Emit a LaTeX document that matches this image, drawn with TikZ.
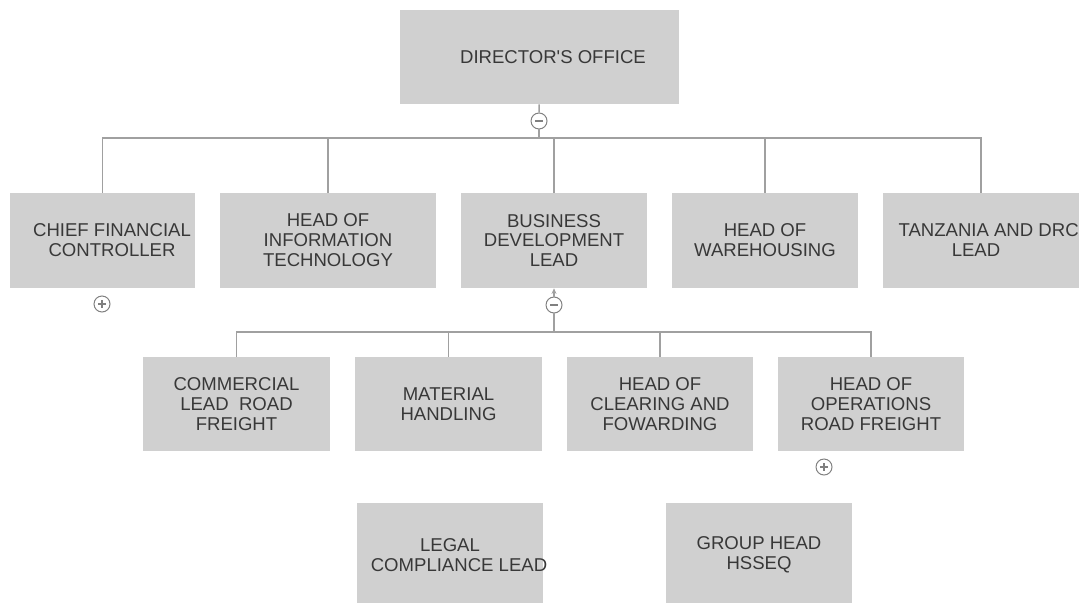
\documentclass[tikz,border=0pt]{standalone}
\usepackage{fontspec}
\setmainfont{Liberation Sans}
\usepackage{xcolor}
\usetikzlibrary{arrows.meta}
\definecolor{unitfill}{HTML}{D0D0D0}
\definecolor{unittext}{HTML}{383838}
\definecolor{linkgray}{HTML}{A0A0A0}
\definecolor{togglegray}{HTML}{808080}

\begin{document}
\begin{tikzpicture}[
    x=0.025cm, y=-0.025cm,
    unit/.style={fill=unitfill, text=unittext, inner sep=0pt, align=center,
        minimum width=4.65cm, minimum height=2.375cm,
        font=\fontsize{13.2}{14.2}\selectfont},
    link/.style={draw=linkgray, line width=1pt},
    toggle/.style={circle, draw=togglegray, fill=white, line width=0.7pt,
        minimum size=0.4cm, inner sep=0pt},
    collapse/.style={toggle, path picture={
        \draw[togglegray, line width=0.8pt]
            ([xshift=-0.09cm]path picture bounding box.center) -- ++(0.18cm,0cm);}},
    expand/.style={toggle, path picture={
        \draw[togglegray, line width=0.8pt]
            ([xshift=-0.09cm]path picture bounding box.center) -- ++(0.18cm,0cm)
            ([yshift=-0.09cm]path picture bounding box.center) -- ++(0cm,0.18cm);}},
]
    \useasboundingbox (0,0) rectangle (1083,603);
    \clip (0,0) rectangle (1083,603);

    % Top
    \node[unit, minimum width=6.975cm, minimum height=2.35cm] (dir) at (539.5,57)
        {\hspace*{0.675cm}DIRECTOR\textquotesingle S OFFICE};
    \node[collapse] (dirsw) at (539,121) {};
    \coordinate (busA) at (539,138);

    % First level
    \node[unit, minimum width=4.625cm] (cfc) at (102.5,240.5)
        {\hspace*{0.475cm}CHIEF FINANCIAL\\\hspace*{0.475cm}CONTROLLER};
    \node[unit, minimum width=5.4cm] (it) at (328,240.5)
        {HEAD OF\\INFORMATION\\TECHNOLOGY};
    \node[unit] (bd) at (554,240.5) {BUSINESS\\DEVELOPMENT\\LEAD};
    \node[unit] (wh) at (765,240.5) {HEAD OF\\WAREHOUSING};
    \node[unit, minimum width=4.9cm] (tz) at (981,240.5)
        {\hspace*{0.19cm}TANZANIA AND DRC\hspace*{-0.19cm}\\
         \hspace*{-0.125cm}LEAD\hspace*{0.125cm}};
    \node[expand] (cfcsw) at (102,304) {};
    \node[collapse] (bdsw) at (554,305) {};
    \coordinate (busB) at (554,332);

    % Second level
    \node[unit, minimum width=4.675cm, minimum height=2.35cm] (crl) at (236.5,404)
        {COMMERCIAL\\LEAD\ \ ROAD\\FREIGHT};
    \node[unit, minimum width=4.675cm, minimum height=2.35cm] (mat) at (448.5,404)
        {MATERIAL\\HANDLING};
    \node[unit, minimum height=2.35cm] (clr) at (660,404)
        {HEAD OF\\CLEARING AND\\FOWARDING};
    \node[unit, minimum height=2.35cm] (ops) at (871,404)
        {HEAD OF\\OPERATIONS\\ROAD FREIGHT};
    \node[expand] (opssw) at (824,467) {};

    % Unlinked units
    \node[unit, minimum height=2.6cm] (legal) at (450,555)
        {LEGAL\\\hspace*{0.225cm}COMPLIANCE LEAD\hspace*{-0.225cm}};
    \node[unit, minimum height=2.6cm] (hsseq) at (759,555)
        {GROUP HEAD\\HSSEQ};

    % Links
    \draw[link] (dir) -- (dirsw);
    \draw[link] (dirsw) -- (busA);
    \foreach \n in {cfc,it,bd,wh,tz}
        \draw[link] (busA) -| (\n.north);
    \draw[link, -{Stealth[length=4pt,width=3.5pt]}] (bdsw) -- (bd);
    \draw[link] (bdsw) -- (busB);
    \foreach \n in {crl,mat,clr,ops}
        \draw[link] (busB) -| (\n.north);
\end{tikzpicture}
\end{document}
